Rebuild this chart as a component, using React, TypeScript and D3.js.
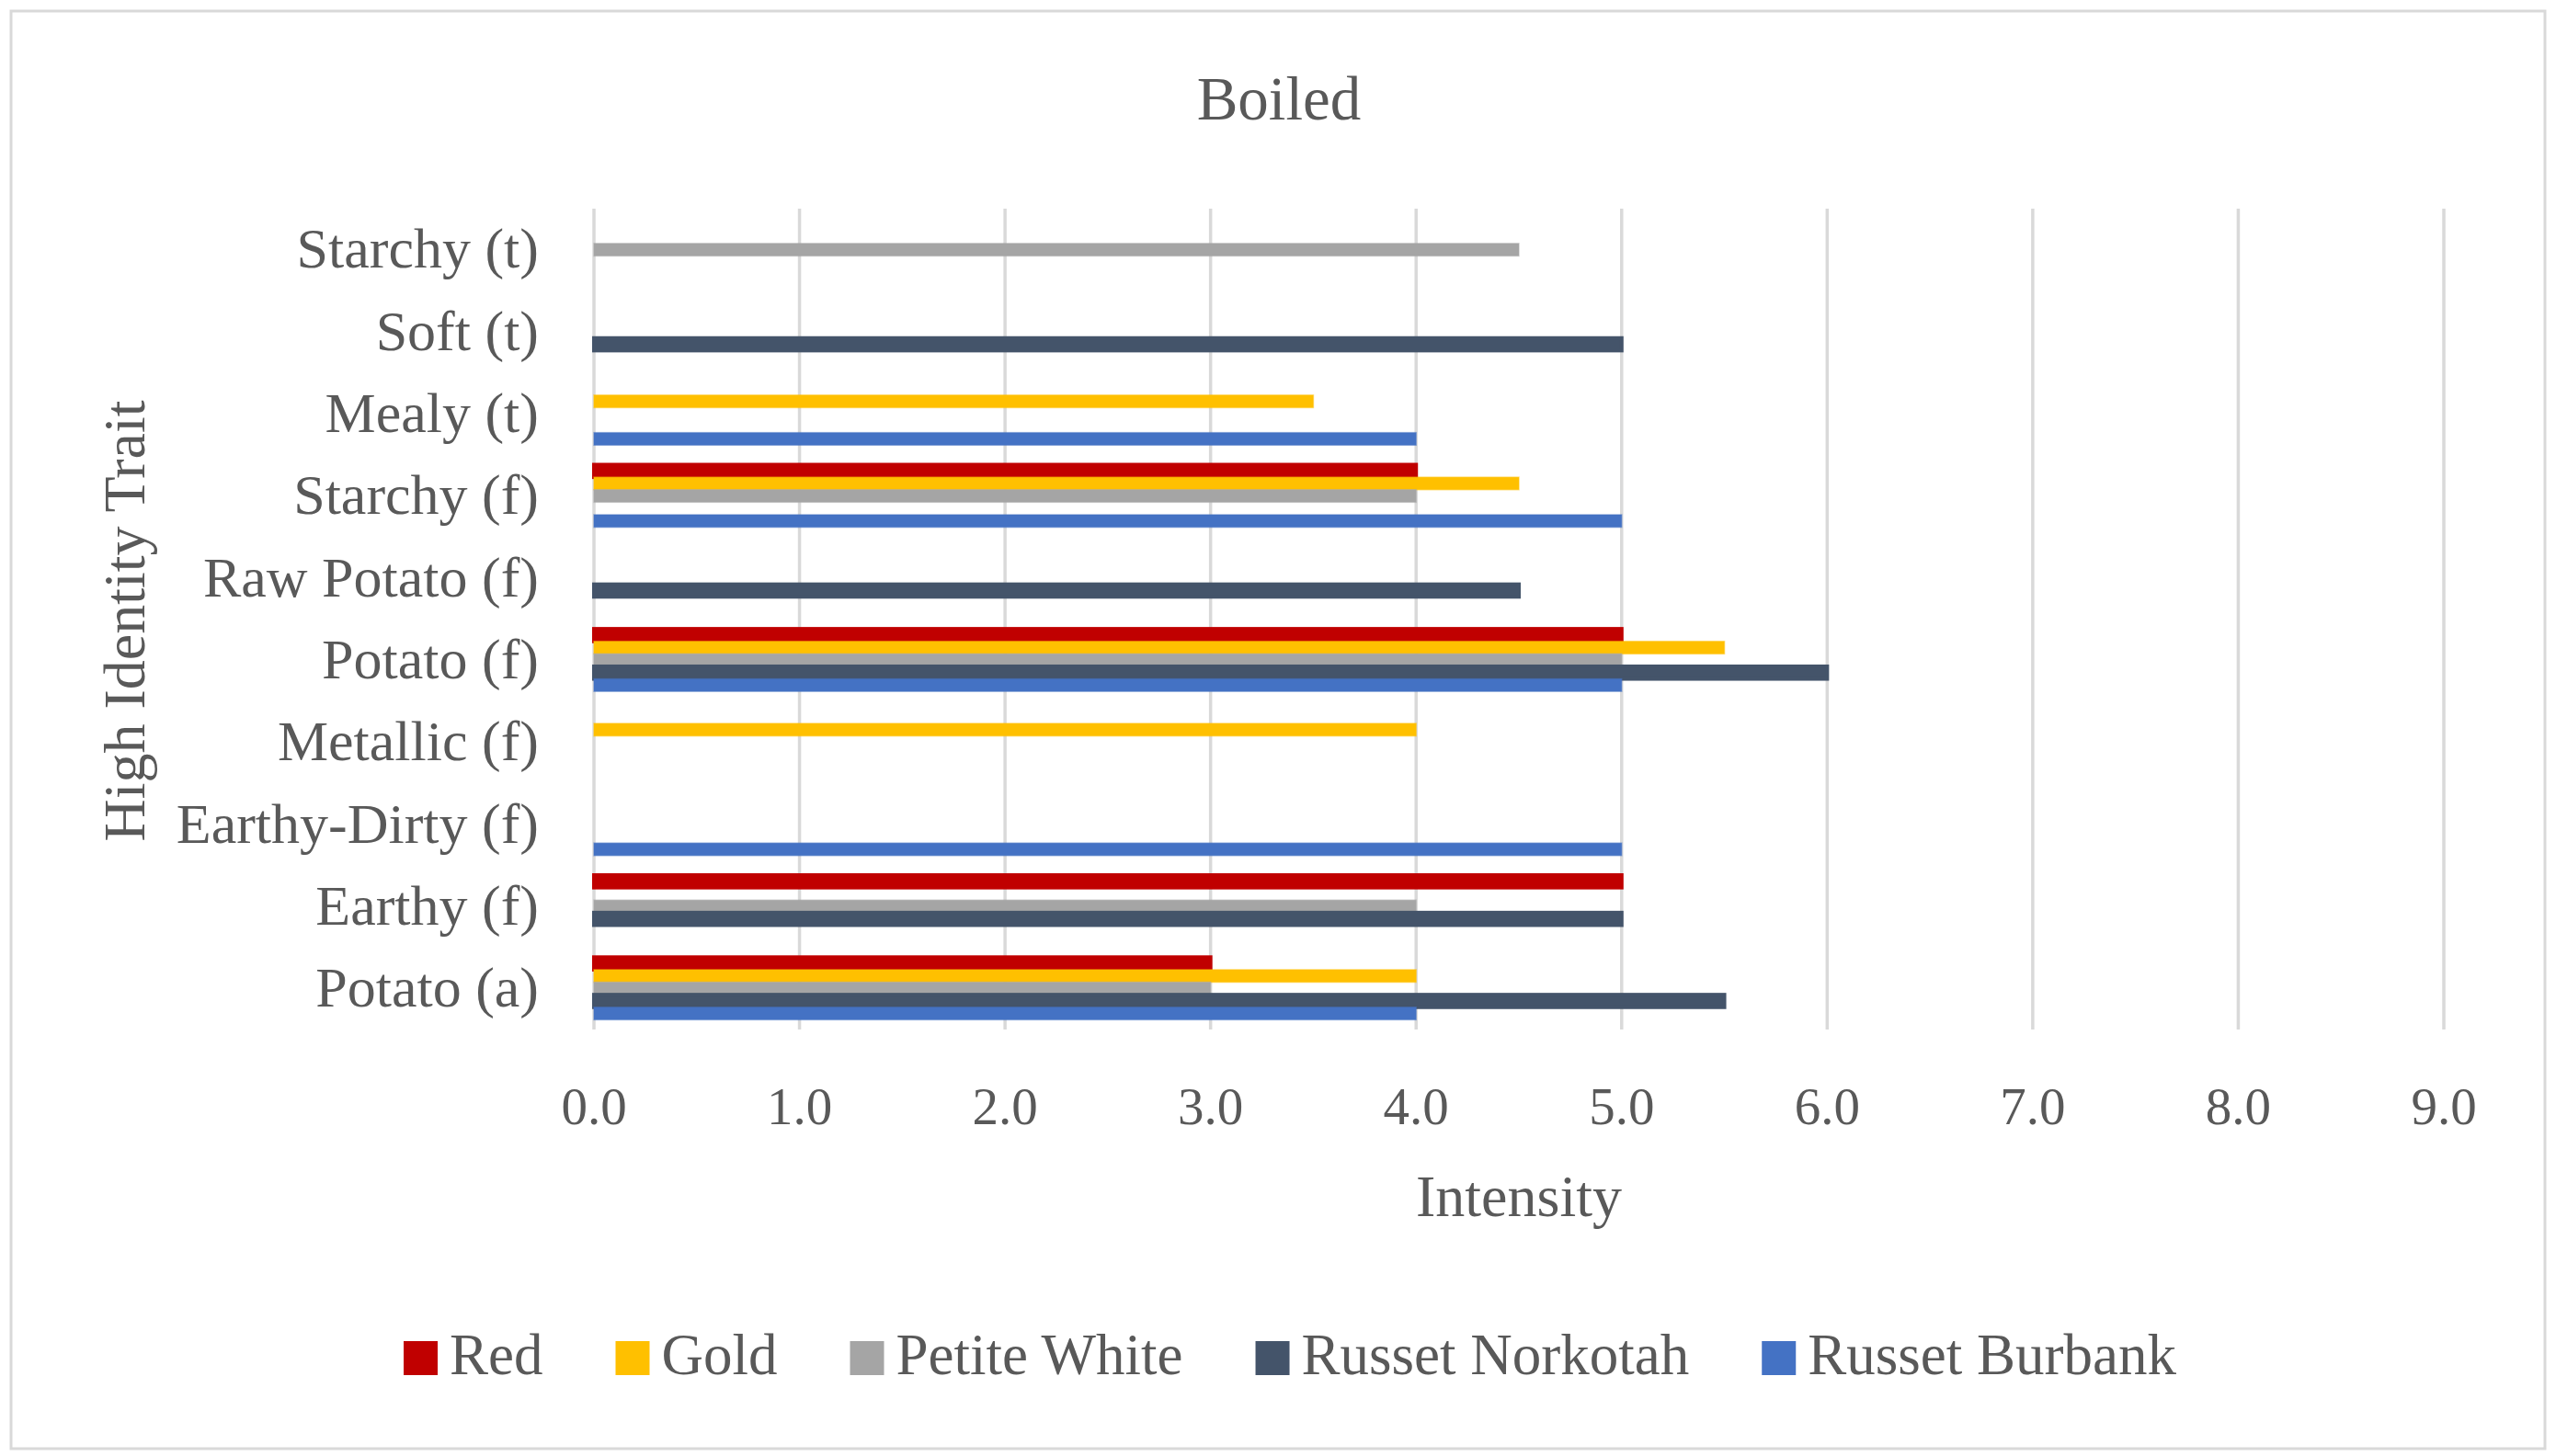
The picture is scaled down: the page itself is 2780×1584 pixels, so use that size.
import { useEffect, useRef } from 'react';
import * as d3 from 'd3';

// categories in Excel order (first one is drawn at the bottom)
const categories = [
    'Potato (a)',
    'Earthy (f)',
    'Earthy-Dirty (f)',
    'Metallic (f)',
    'Potato (f)',
    'Raw Potato (f)',
    'Starchy (f)',
    'Mealy (t)',
    'Soft (t)',
    'Starchy (t)',
];

const seriesNames = ['Red', 'Gold', 'Petite White', 'Russet Norkotah', 'Russet Burbank'];
const seriesColors = ['#C00000', '#FFC000', '#A5A5A5', '#44546A', '#4472C4'];

const red = [3, 5, null, null, 5, null, 4, null, null, null];
const gold = [4, null, null, 4, 5.5, null, 4.5, 3.5, null, null];
const petiteWhite = [3, 4, null, null, 5, null, 4, null, null, 4.5];
const russetNorkotah = [5.5, 5, null, null, 6, 4.5, null, null, 5, null];
const russetBurbank = [4, null, 5, null, 5, null, 5, 4, null, null];

const xTicks = [0, 1, 2, 3, 4, 5, 6, 7, 8, 9];

const W = 2780;
const H = 1584;
const FONT = "'Liberation Serif', 'Times New Roman', serif";
const TEXT = '#595959';

export default function App() {
    const ref = useRef<SVGSVGElement | null>(null);

    useEffect(() => {
        const svg = d3.select(ref.current);
        svg.selectAll('*').remove();

        const values = [red, gold, petiteWhite, russetNorkotah, russetBurbank];
        const plot = { left: 646, right: 2658, top: 227, bottom: 1120 };

        svg.append('rect')
            .attr('width', W)
            .attr('height', H)
            .attr('fill', '#ffffff');

        // chart frame
        svg.append('rect')
            .attr('x', 12)
            .attr('y', 12)
            .attr('width', 2756)
            .attr('height', 1564)
            .attr('fill', 'none')
            .attr('stroke', '#D9D9D9')
            .attr('stroke-width', 3);

        const x = d3.scaleLinear().domain([0, 9]).range([plot.left, plot.right]);

        const y = d3.scaleBand<string>()
            .domain([...categories].reverse())
            .range([plot.top, plot.bottom])
            .padding(0);

        const inner = d3.scaleBand<string>()
            .domain(seriesNames)
            .range([0, y.bandwidth()])
            .paddingInner(0)
            .paddingOuter(0.78);

        // gridlines
        svg.append('g')
            .selectAll('line')
            .data(xTicks)
            .enter()
            .append('line')
            .attr('x1', (d) => x(d))
            .attr('x2', (d) => x(d))
            .attr('y1', plot.top)
            .attr('y2', plot.bottom)
            .attr('stroke', '#D9D9D9')
            .attr('stroke-width', 3.5);

        // bars
        const outlined = new Set(['Red', 'Russet Norkotah']);
        seriesNames.forEach((name, si) => {
            const rows = categories
                .map((c, ci) => ({ c, v: values[si][ci] }))
                .filter((r) => r.v !== null) as { c: string; v: number }[];
            svg.append('g')
                .selectAll('rect')
                .data(rows)
                .enter()
                .append('rect')
                .attr('x', x(0))
                .attr('y', (d) => y(d.c)! + inner(name)!)
                .attr('width', (d) => x(d.v) - x(0))
                .attr('height', inner.bandwidth())
                .attr('fill', seriesColors[si])
                .attr('stroke', seriesColors[si])
                .attr('stroke-opacity', outlined.has(name) ? 1 : 0.5)
                .attr('stroke-width', outlined.has(name) ? 4 : 1.5);
        });

        // category labels
        svg.append('g')
            .selectAll('text')
            .data(categories)
            .enter()
            .append('text')
            .attr('x', 586)
            .attr('y', (d) => y(d)! + y.bandwidth() / 2)
            .attr('dy', '0.32em')
            .attr('text-anchor', 'end')
            .attr('font-family', FONT)
            .attr('font-size', 62)
            .attr('fill', TEXT)
            .text((d) => d);

        // tick labels
        svg.append('g')
            .selectAll('text')
            .data(xTicks)
            .enter()
            .append('text')
            .attr('x', (d) => x(d))
            .attr('y', 1223)
            .attr('text-anchor', 'middle')
            .attr('font-family', FONT)
            .attr('font-size', 57)
            .attr('fill', TEXT)
            .text((d) => d3.format('.1f')(d));

        // title
        svg.append('text')
            .attr('x', 1391)
            .attr('y', 130)
            .attr('text-anchor', 'middle')
            .attr('font-family', FONT)
            .attr('font-size', 67)
            .attr('fill', TEXT)
            .text('Boiled');

        // axis titles
        svg.append('text')
            .attr('x', (plot.left + plot.right) / 2)
            .attr('y', 1323)
            .attr('text-anchor', 'middle')
            .attr('font-family', FONT)
            .attr('font-size', 64)
            .attr('fill', TEXT)
            .text('Intensity');

        svg.append('text')
            .attr('transform', `translate(157, ${(plot.top + plot.bottom) / 2 + 2}) rotate(-90)`)
            .attr('text-anchor', 'middle')
            .attr('font-family', FONT)
            .attr('font-size', 64)
            .attr('fill', TEXT)
            .text('High Identity Trait');

        // legend, laid out from measured text widths
        const legend = svg.append('g');
        const sw = 37;
        const gapText = 13;
        const gapItem = 79;
        let cursor = 0;
        seriesNames.forEach((name, i) => {
            const item = legend.append('g').attr('transform', `translate(${cursor}, 0)`);
            item.append('rect')
                .attr('x', 0)
                .attr('y', 1459)
                .attr('width', sw)
                .attr('height', sw)
                .attr('fill', seriesColors[i]);
            const t = item.append('text')
                .attr('x', sw + gapText)
                .attr('y', 1495)
                .attr('font-family', FONT)
                .attr('font-size', 63)
                .attr('fill', TEXT)
                .text(name);
            const tw = (t.node() as SVGTextElement).getComputedTextLength();
            cursor += sw + gapText + tw + gapItem;
        });
        const total = cursor - gapItem;
        legend.attr('transform', `translate(${1403 - total / 2}, 0)`);
    }, []);

    return (
        <svg
            ref={ref}
            width={W}
            height={H}
            style={{ position: 'absolute', left: 0, top: 0, display: 'block' }}
        />
    );
}
